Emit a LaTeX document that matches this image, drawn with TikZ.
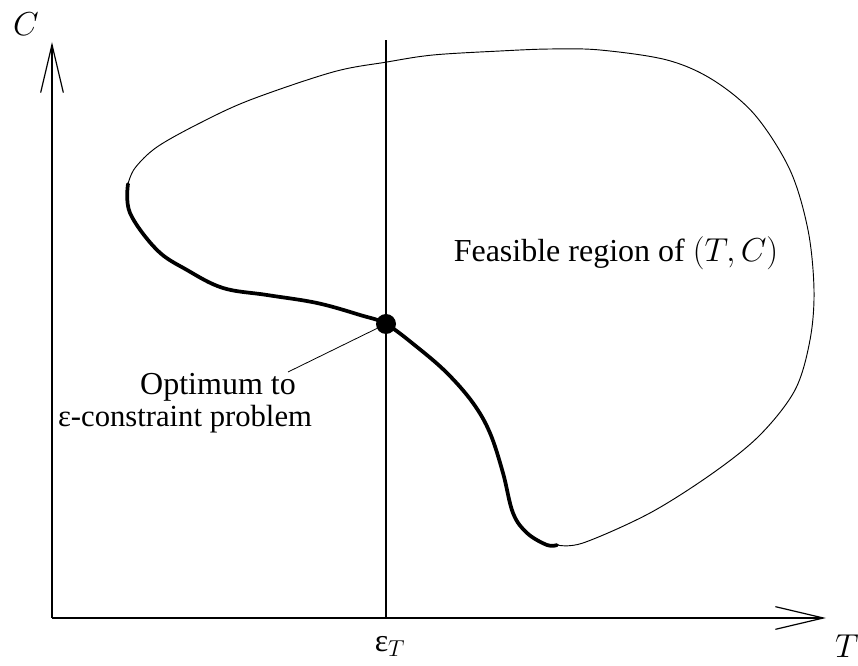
\documentclass[tikz,border=0pt]{standalone}
\usepackage{fontspec}
\setmainfont{Liberation Serif}
\usetikzlibrary{arrows.meta}

\begin{document}
\begin{tikzpicture}[x=0.75pt, y=-0.75pt,
      every node/.style={font=\fontsize{24}{21}\selectfont, inner sep=0pt},
      axis/.style={line width=0.9pt, -{Straight Barb[length=36pt, width=17pt, line width=0.9pt]}},
      boundary/.style={line width=0.7pt},
      front/.style={line width=2.8pt, line cap=round}]
    \useasboundingbox (0,0) rectangle (858,666);
    % axes
    \coordinate (O) at (52,618);
    \coordinate (Ytip) at (52,42);
    \coordinate (Xtip) at (826,618);
    \draw[axis] (O) -- (Ytip);
    \draw[axis] (O) -- (Xtip);
    \node[font=\fontsize{26}{30}\selectfont] (Clabel) at (26,24) {$C$};
    \node[font=\fontsize{26}{30}\selectfont] (Tlabel) at (847,646) {$T$};
    % epsilon constraint line
    \coordinate (EpsTop) at (386,40);
    \coordinate (EpsBot) at (386,618);
    \draw[line width=0.9pt] (EpsBot) -- (EpsTop);
    \node (Eps) at (390,646) {ε$_T$};
    % feasible region
    \draw[boundary] plot[smooth, tension=0.55] coordinates {
      (557,545) (583,543) (650,513) (713,473) (760,435) (795,390)
      (810,340) (814,290) (808,230) (790,170) (755,115) (713,80)
      (667,60) (600,50) (550,49) (500,51) (433,55) (387,62) (333,72)
      (250,100) (200,123) (157,147) (135,168) (128,184)};
    \draw[front] plot[smooth, tension=0.6] coordinates {
      (128,184) (130,213) (157,250) (187,270) (223,288) (267,295)
      (317,303) (360,315) (386,324) (417,347) (447,373) (473,403)
      (490,433) (503,473) (513,513) (527,533) (547,545) (557,545)};
    \node[circle, fill=black, minimum size=15pt] (Opt) at (386,324) {};
    \node (Feas) at (616,253) {Feasible region of $(T,C)$};
    % label of optimum
    \node[anchor=base] (OptLabel) at (218,395) {Optimum to};
    \node[anchor=base, font=\fontsize{23}{21}\selectfont] (EpsProblem) at (185,427) {ε-constraint problem};
    \coordinate (Lead) at (288,372);
    \draw[line width=0.6pt] (Opt) -- (Lead);
  \end{tikzpicture}
\end{document}
